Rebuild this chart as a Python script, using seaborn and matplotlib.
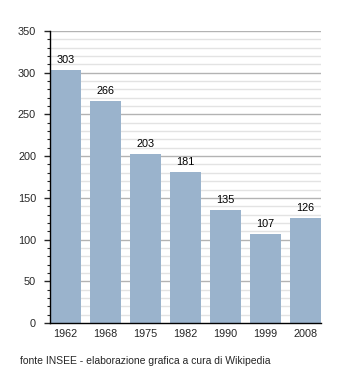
import matplotlib
matplotlib.use("Agg")
import matplotlib.pyplot as plt
import seaborn as sns
import pandas as pd
import numpy as np

years = ["1962", "1968", "1975", "1982", "1990", "1999", "2008"]
population = [303, 266, 203, 181, 135, 107, 126]

sns.set_style("white")
plt.rcParams['font.family'] = ['Liberation Sans', 'DejaVu Sans']

df = pd.DataFrame({"year": years, "pop": population})

fig = plt.figure(figsize=(3.5, 3.73), dpi=100)
ax = fig.add_axes([50/350, 1-323/373, 271/350, 292/373])

for y in range(10, 351, 10):
    if y % 50 == 0:
        ax.axhline(y, color="#b3b3b3", lw=1.0, zorder=0)
    else:
        ax.axhline(y, color="#e3e3e3", lw=1.0, zorder=0)

sns.barplot(data=df, x="year", y="pop", color="#9ab3cc", saturation=1,
            width=0.775, ax=ax, linewidth=0, edgecolor="none")
for p in ax.patches:
    p.set_zorder(3)

for i, v in enumerate(population):
    ax.text(i, v + 6, str(v), ha="center", va="bottom", fontsize=7.8, color="black", zorder=4)

w = 0.775
ax.set_xlim(-w/2, 6 + w/2)
ax.set_ylim(0, 350)
ax.set_yticks(range(0, 351, 50))
ax.set_yticks(range(0, 351, 10), minor=True)
ax.set_xlabel("")
ax.set_ylabel("")
ax.tick_params(axis="y", which="major", length=4, width=1, direction="out", labelsize=7.8, pad=6, left=True)
ax.tick_params(axis="y", which="minor", length=2.5, width=0.8, direction="out", left=True)
ax.tick_params(axis="x", length=0, labelsize=7.8, pad=4)
for s in ["top", "right"]:
    ax.spines[s].set_visible(False)
ax.spines["left"].set_color("black")
ax.spines["bottom"].set_color("black")
ax.spines["left"].set_linewidth(1)
ax.spines["bottom"].set_linewidth(1)
ax.spines["left"].set_zorder(5)
ax.spines["bottom"].set_zorder(5)

fig.text(20/350, 1-361/373, "fonte INSEE - elaborazione grafica a cura di Wikipedia",
         fontsize=7.5, ha="left", va="center")

fig.savefig("out.png", dpi=100)
